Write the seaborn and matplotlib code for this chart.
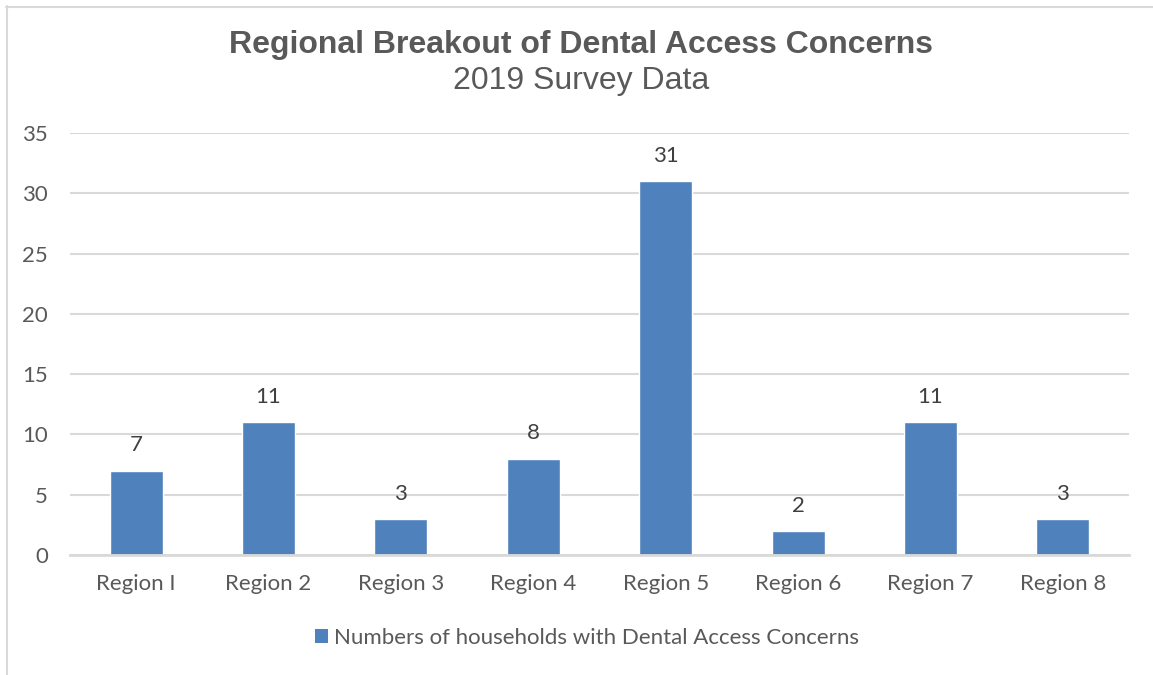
import matplotlib
matplotlib.use("Agg")
import matplotlib.pyplot as plt
import seaborn as sns
import pandas as pd
from matplotlib.patches import Patch
from matplotlib.lines import Line2D

regions = ["Region I", "Region 2", "Region 3", "Region 4", "Region 5", "Region 6", "Region 7", "Region 8"]
households = [7, 11, 3, 8, 31, 2, 11, 3]
yticks = [0, 5, 10, 15, 20, 25, 30, 35]
series_name = "Numbers of households with Dental Access Concerns"

sns.set_theme(style="white")
plt.rcParams['font.family'] = ['Lato', 'DejaVu Sans']

W, H = 1153, 675
fig = plt.figure(figsize=(W / 100, H / 100), dpi=100)
fig.patch.set_facecolor("white")

# chart frame (left and top visible)
fig.add_artist(Line2D([6.5 / W, 6.5 / W], [0, 1 - 6 / H], color="#D9D9D9", lw=1.5, transform=fig.transFigure))
fig.add_artist(Line2D([6 / W, 1], [1 - 6.5 / H, 1 - 6.5 / H], color="#D9D9D9", lw=1.5, transform=fig.transFigure))

ax = fig.add_axes([70 / W, 1 - 555 / H, (1129 - 70) / W, (555 - 133) / H])
df = pd.DataFrame({"region": regions, "value": households})
sns.barplot(data=df, x="region", y="value", color="#4F81BD", width=0.4, ax=ax, saturation=1)

ax.set_ylim(0, 35)
ax.set_yticks(yticks)
ax.set_xlim(-0.5, len(regions) - 0.5)
ax.set_xlabel("")
ax.set_ylabel("")
for s in ["top", "right", "left"]:
    ax.spines[s].set_visible(False)
ax.spines["bottom"].set_color("#D9D9D9")
ax.spines["bottom"].set_linewidth(2)
ax.yaxis.grid(True, color="#D9D9D9", lw=1.5)
ax.set_axisbelow(True)
ax.tick_params(axis="both", length=0, colors="#595959", labelsize=16)
ax.tick_params(axis="y", pad=16)
ax.tick_params(axis="x", pad=14)

for i, v in enumerate(households):
    ax.annotate(str(v), (i, v), xytext=(0, 11), textcoords="offset points",
                ha="center", va="bottom", fontsize=16, color="#404040")

fig.text(581 / W, 1 - 45 / H, "Regional Breakout of Dental Access Concerns", ha="center", va="center",
         fontsize=23, fontweight="bold", color="#595959", family=["Liberation Sans", "DejaVu Sans"])
fig.text(581 / W, 1 - 81 / H, "2019 Survey Data", ha="center", va="center",
         fontsize=23, color="#595959", family=["Liberation Sans", "DejaVu Sans"])

handle = Patch(facecolor="#4F81BD", edgecolor="none")
leg = fig.legend([handle], [series_name], loc="center", bbox_to_anchor=(587 / W, 1 - 638 / H),
                 frameon=False, fontsize=16, handlelength=0.6, handleheight=0.6, handletextpad=0.3)
for t in leg.get_texts():
    t.set_color("#595959")

fig.savefig("out.png", dpi=100)
